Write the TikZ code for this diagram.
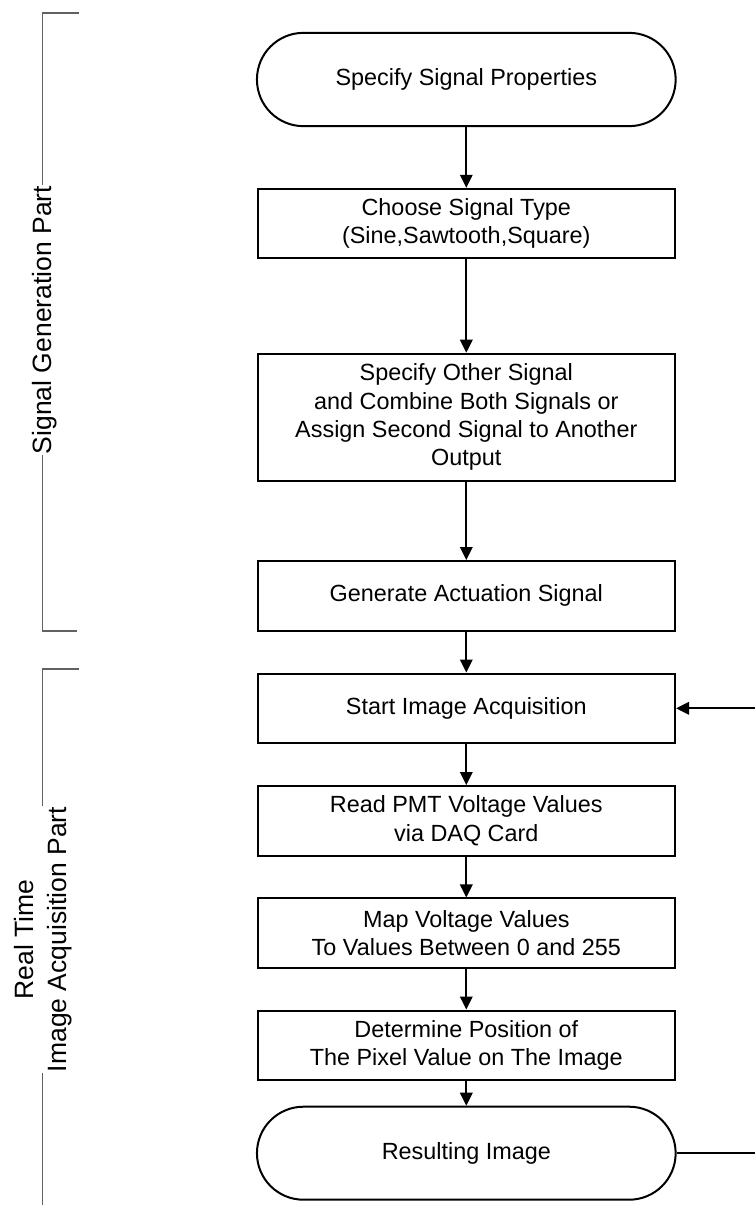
\documentclass[tikz,border=0pt]{standalone}
\usepackage{fontspec}
\setmainfont{Liberation Sans}
\usetikzlibrary{arrows.meta,calc}
\begin{document}
\begin{tikzpicture}[x=1pt,y=-1pt,
  box/.style={draw=black, line width=2pt, minimum width=417.5pt, minimum height=69.5pt, align=center, font=\fontsize{23.4}{28.3}\selectfont, inner sep=0pt},
  term/.style={box, rounded corners=46.5pt, minimum height=93.3pt, minimum width=418.7pt},
  arr/.style={line width=2pt, -{Triangle[length=13pt,width=12.5pt]}},
  brk/.style={draw=black!62, line width=1.6pt},
  side/.style={rotate=90, font=\fontsize{26.5}{33.4}\selectfont, align=center, fill=white, inner xsep=1pt, inner ysep=0pt}]
\useasboundingbox (0,0) rectangle (755,1205);

% side brackets
\draw[brk] (78.7,12.7) -- (42.3,12.7) -- (42.3,630.7) -- (77.3,630.7);
\draw[brk] (78.7,668.7) -- (42.3,668.7) -- (42.3,1212);
\node[side] (lab1) at (44.8,320) {Signal Generation Part};
\node[side] (lab2) at (43.2,939.5) {Real Time\\Image Acquisition Part};

% flow nodes
\node[term] (s) at (466.3,79.5) {Specify Signal Properties};
\node[box] (b2) at (466.3,223.5) {Choose Signal Type\\(Sine,Sawtooth,Square)};
\node[box, minimum height=127pt] (b3) at (466.3,417.2) {Specify Other Signal\\and Combine Both Signals or\\Assign Second Signal to Another\\Output};
\node[box] (b4) at (466.3,595.8) {Generate Actuation Signal};
\node[box] (b5) at (466.3,708.3) {Start Image Acquisition};
\node[box] (b6) at (466.3,820.8) {Read PMT Voltage Values\\via DAQ Card};
\node[box] (b7) at (466.3,933.2) {Map Voltage Values\\To Values Between 0 and 255};
\node[box] (b8) at (466.3,1045.3) {Determine Position of\\The Pixel Value on The Image};
\node[term, minimum height=93pt] (e) at (466.3,1153.2) {Resulting Image};

% connectors
\draw[arr] (s) -- (b2);
\draw[arr] (b2) -- (b3);
\draw[arr] (b3) -- (b4);
\draw[arr] (b4) -- (b5);
\draw[arr] (b5) -- (b6);
\draw[arr] (b6) -- (b7);
\draw[arr] (b7) -- (b8);
\draw[arr] (b8) -- (e);
\coordinate (fb) at (757,0);
\draw[arr] (e.east) -- (e.east -| fb) -- (b5.east -| fb) -- (b5.east);
\end{tikzpicture}
\end{document}
